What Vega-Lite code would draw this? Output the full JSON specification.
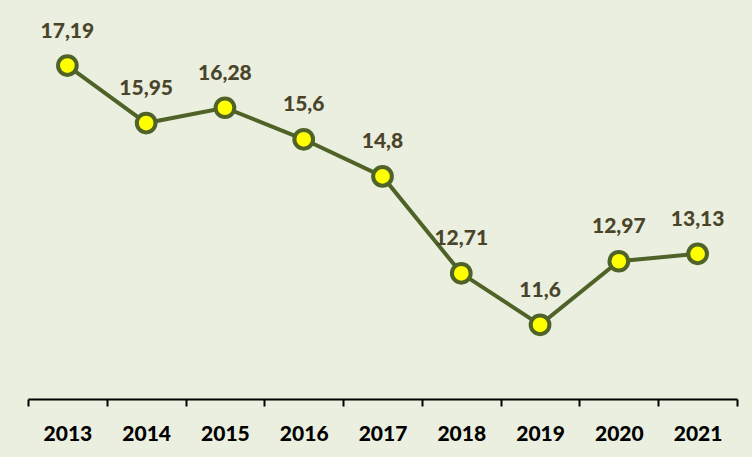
{
  "$schema": "https://vega.github.io/schema/vega-lite/v6.json",
  "width": 709,
  "height": 371,
  "autosize": {"type": "none"},
  "padding": {"left": 28, "top": 28, "right": 15, "bottom": 58},
  "background": "#EBEFDF",
  "config": {"view": {"stroke": null}},
  "data": {"values": [
    {"year": "2013", "value": 17.19, "label": "17,19"},
    {"year": "2014", "value": 15.95, "label": "15,95"},
    {"year": "2015", "value": 16.28, "label": "16,28"},
    {"year": "2016", "value": 15.6, "label": "15,6"},
    {"year": "2017", "value": 14.8, "label": "14,8"},
    {"year": "2018", "value": 12.71, "label": "12,71"},
    {"year": "2019", "value": 11.6, "label": "11,6"},
    {"year": "2020", "value": 12.97, "label": "12,97"},
    {"year": "2021", "value": 13.13, "label": "13,13"}
  ]},
  "encoding": {
    "x": {
      "field": "year", "type": "ordinal",
      "scale": {"type": "band", "paddingInner": 0, "paddingOuter": 0},
      "axis": {
        "title": null, "labelAngle": 0, "tickBand": "extent",
        "domainColor": "#000000", "domainWidth": 2, "tickColor": "#000000", "tickWidth": 2, "tickSize": 7,
        "labelFont": "Lato", "labelFontWeight": 900, "labelFontSize": 21, "labelColor": "#000000",
        "labelPadding": 17, "grid": false
      }
    },
    "y": {
      "field": "value", "type": "quantitative",
      "scale": {"domain": [10, 18], "zero": false, "nice": false},
      "axis": null
    }
  },
  "layer": [
    {"mark": {"type": "line", "color": "#4F6228", "strokeWidth": 4}},
    {"mark": {"type": "point", "filled": false, "fill": "#FFFF00", "fillOpacity": 1, "stroke": "#4F6228", "strokeWidth": 4, "size": 350, "opacity": 1}},
    {"mark": {"type": "text", "font": "Lato", "fontWeight": 900, "fontSize": 21, "color": "#4A452A", "baseline": "middle", "dy": -34},
     "encoding": {"text": {"field": "label"}}}
  ]
}
